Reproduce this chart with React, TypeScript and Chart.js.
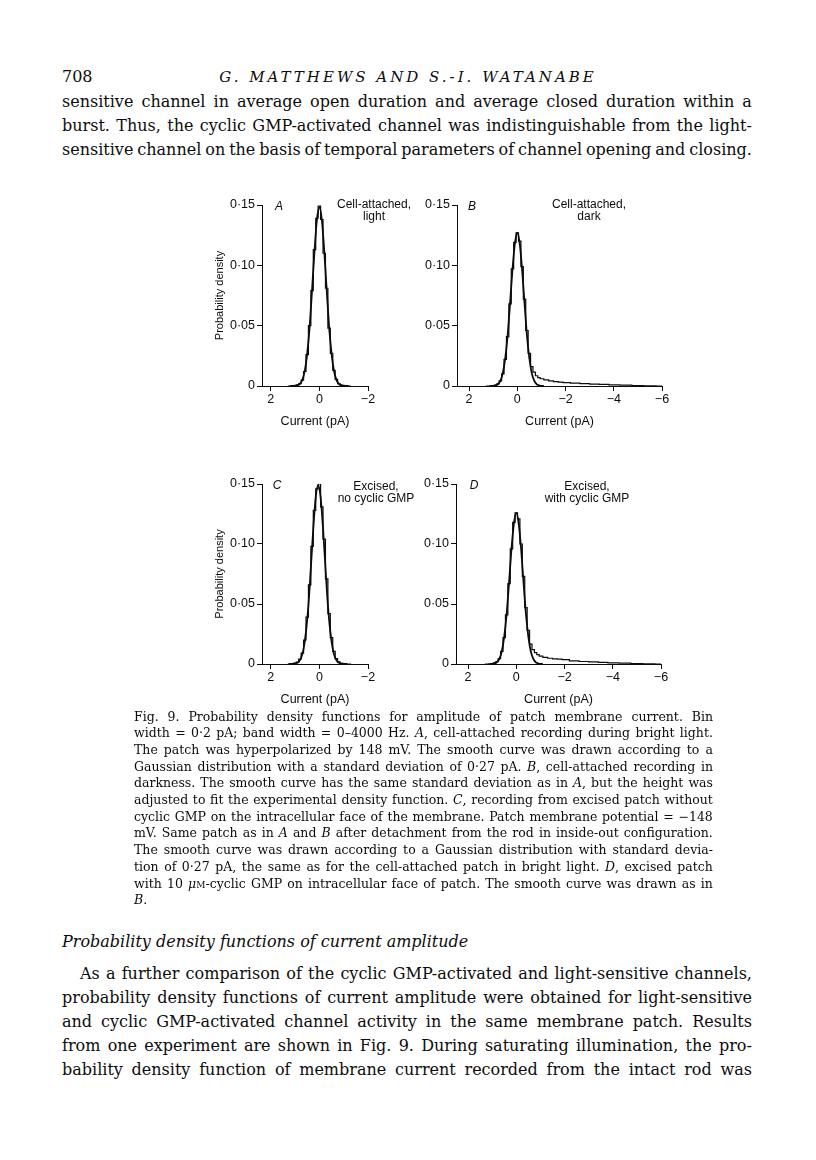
import React, { useEffect, useRef } from 'react';
import { Chart, registerables } from 'chart.js';

Chart.register(...registerables);

// ---------------- DATA ----------------
const yTickValues = [0, 0.05, 0.1, 0.15];
const yTickLabels = ['0', '0·05', '0·10', '0·15'];
const xTicksNarrow = [2, 0, -2];
const xTicksWide = [2, 0, -2, -4, -6];
const xTickLabelsNarrow = ['2', '0', '−2'];
const xTickLabelsWide = ['2', '0', '−2', '−4', '−6'];

// bin centres (pA) used by panels A and C
const binsNarrow = [1.3, 1.2, 1.1, 1.0, 0.9, 0.8, 0.7, 0.6, 0.5, 0.4, 0.3, 0.2, 0.1, 0, -0.1, -0.2, -0.3, -0.4, -0.5, -0.6, -0.7, -0.8, -0.9, -1.0, -1.1, -1.2, -1.3];
// bin centres (pA) used by panels B and D (with long tail)
const binsWide = [1.3, 1.2, 1.1, 1.0, 0.9, 0.8, 0.7, 0.6, 0.5, 0.4, 0.3, 0.2, 0.1, 0, -0.1, -0.2, -0.3, -0.4, -0.5, -0.6, -0.7, -0.8, -0.9, -1.0, -1.2, -1.4, -1.6, -1.8, -2.0, -2.4, -2.8, -3.2, -3.6, -4.0, -4.5, -5.0, -5.5, -6.0];

// A: cell-attached, light
const histA = [0, 0, 0.0002, 0.0004, 0.0009, 0.002, 0.0048, 0.012, 0.026, 0.05, 0.079, 0.113, 0.139, 0.149, 0.138, 0.11, 0.081, 0.048, 0.027, 0.013, 0.0055, 0.002, 0.0008, 0.0003, 0.0001, 0, 0];
const fitXA = [1.2, 1.1, 1.0, 0.9, 0.8, 0.7, 0.6, 0.5, 0.4, 0.3, 0.2, 0.1, 0, -0.1, -0.2, -0.3, -0.4, -0.5, -0.6, -0.7, -0.8, -0.9, -1.0, -1.1, -1.2];
const fitYA = [0, 0.00005, 0.0002, 0.0006, 0.0018, 0.0051, 0.0125, 0.027, 0.049, 0.08, 0.112, 0.138, 0.148, 0.138, 0.112, 0.08, 0.049, 0.027, 0.0125, 0.0051, 0.0018, 0.0006, 0.0002, 0.00005, 0];

// B: cell-attached, dark
const histB = [0, 0, 0.0001, 0.0003, 0.0008, 0.0018, 0.0042, 0.01, 0.022, 0.041, 0.068, 0.097, 0.119, 0.127, 0.12, 0.099, 0.072, 0.046, 0.027, 0.016, 0.0115, 0.0085, 0.007, 0.006, 0.005, 0.0043, 0.0037, 0.0032, 0.0028, 0.0024, 0.002, 0.0016, 0.0013, 0.001, 0.0007, 0.0004, 0.0002, 0];
const fitXB = [1.1, 1.0, 0.9, 0.8, 0.7, 0.6, 0.5, 0.4, 0.3, 0.2, 0.1, 0, -0.1, -0.2, -0.3, -0.4, -0.5, -0.6, -0.7, -0.8, -0.9, -1.0, -1.1];
const fitYB = [0, 0.00013, 0.0005, 0.0016, 0.0044, 0.0107, 0.023, 0.042, 0.0685, 0.0965, 0.118, 0.127, 0.118, 0.0965, 0.0685, 0.042, 0.023, 0.0107, 0.0044, 0.0016, 0.0005, 0.00013, 0];

// C: excised, no cyclic GMP
const histC = [0, 0.0001, 0.0003, 0.0007, 0.0016, 0.004, 0.009, 0.02, 0.039, 0.066, 0.098, 0.128, 0.146, 0.15, 0.131, 0.104, 0.071, 0.042, 0.022, 0.0105, 0.0045, 0.0017, 0.0006, 0.0002, 0, 0, 0];
const fitXC = [1.25, 1.15, 1.05, 0.95, 0.85, 0.75, 0.65, 0.55, 0.45, 0.35, 0.25, 0.15, 0.05, -0.05, -0.15, -0.25, -0.35, -0.45, -0.55, -0.65, -0.75, -0.85, -0.95, -1.05, -1.15];
const fitYC = [0, 0.00005, 0.0002, 0.0006, 0.0018, 0.0052, 0.0126, 0.027, 0.049, 0.0805, 0.113, 0.139, 0.149, 0.139, 0.113, 0.0805, 0.049, 0.027, 0.0126, 0.0052, 0.0018, 0.0006, 0.0002, 0.00005, 0];

// D: excised, with cyclic GMP
const histD = [0, 0, 0.0001, 0.0003, 0.0009, 0.002, 0.0045, 0.0105, 0.022, 0.041, 0.067, 0.096, 0.118, 0.126, 0.121, 0.1, 0.073, 0.047, 0.028, 0.0165, 0.012, 0.0095, 0.0078, 0.0066, 0.0055, 0.0048, 0.0043, 0.004, 0.0036, 0.0026, 0.0021, 0.0017, 0.0013, 0.001, 0.0007, 0.0004, 0.0002, 0];
const fitXD = [1.1, 1.0, 0.9, 0.8, 0.7, 0.6, 0.5, 0.4, 0.3, 0.2, 0.1, 0, -0.1, -0.2, -0.3, -0.4, -0.5, -0.6, -0.7, -0.8, -0.9, -1.0, -1.1];
const fitYD = [0, 0.00013, 0.0005, 0.0016, 0.0044, 0.0106, 0.0228, 0.0417, 0.068, 0.0958, 0.117, 0.126, 0.117, 0.0958, 0.068, 0.0417, 0.0228, 0.0106, 0.0044, 0.0016, 0.0005, 0.00013, 0];

// ---------------- TEXT ----------------
const topLines = [
  'sensitive channel in average open duration and average closed duration within a',
  'burst. Thus, the cyclic GMP-activated channel was indistinguishable from the light-',
  'sensitive channel on the basis of temporal parameters of channel opening and closing.',
];
const captionLines = [
  'Fig. 9. Probability density functions for amplitude of patch membrane current. Bin',
  'width = 0·2 pA; band width = 0–4000 Hz. *A*, cell-attached recording during bright light.',
  'The patch was hyperpolarized by 148 mV. The smooth curve was drawn according to a',
  'Gaussian distribution with a standard deviation of 0·27 pA. *B*, cell-attached recording in',
  'darkness. The smooth curve has the same standard deviation as in *A*, but the height was',
  'adjusted to fit the experimental density function. *C*, recording from excised patch without',
  'cyclic GMP on the intracellular face of the membrane. Patch membrane potential = −148',
  'mV. Same patch as in *A* and *B* after detachment from the rod in inside-out configuration.',
  'The smooth curve was drawn according to a Gaussian distribution with standard devia-',
  'tion of 0·27 pA, the same as for the cell-attached patch in bright light. *D*, excised patch',
  'with 10 *μ*^M^-cyclic GMP on intracellular face of patch. The smooth curve was drawn as in',
];
const captionLast = '*B*.';
const sectionHeading = 'Probability density functions of current amplitude';
const paraLines = [
  'As a further comparison of the cyclic GMP-activated and light-sensitive channels,',
  'probability density functions of current amplitude were obtained for light-sensitive',
  'and cyclic GMP-activated channel activity in the same membrane patch. Results',
  'from one experiment are shown in Fig. 9. During saturating illumination, the pro-',
  'bability density function of membrane current recorded from the intact rod was',
];

// ---------------- LAYOUT ----------------
const INK = '#0c0c0c';
const SANS = '"Liberation Sans", Arial, sans-serif';
const SERIF = '"DejaVu Serif", serif';
const Y_W = 72;
const PAD_T = 15;
const PAD_R = 37;
const X_H = 54;
const BODY = 16;
const CAP = 12.5;

type PanelDef = {
  key: string;
  left: number; right: number; top: number; bottom: number;
  xMax: number; xMin: number;
  xTicks: number[]; xLabels: string[];
  histX: number[]; histY: number[];
  fitX: number[]; fitY: number[];
  showYTitle: boolean;
  letter: string; letterX: number;
  note: string[]; noteX: number;
};

const panels: PanelDef[] = [
  { key: 'A', left: 262, right: 368, top: 205, bottom: 386, xMax: 2.36, xMin: -2, xTicks: xTicksNarrow, xLabels: xTickLabelsNarrow, histX: binsNarrow, histY: histA, fitX: fitXA, fitY: fitYA, showYTitle: true, letter: 'A', letterX: 279, note: ['Cell-attached,', 'light'], noteX: 374 },
  { key: 'B', left: 457, right: 662, top: 205, bottom: 386, xMax: 2.5, xMin: -6, xTicks: xTicksWide, xLabels: xTickLabelsWide, histX: binsWide, histY: histB, fitX: fitXB, fitY: fitYB, showYTitle: false, letter: 'B', letterX: 472, note: ['Cell-attached,', 'dark'], noteX: 589 },
  { key: 'C', left: 262, right: 368, top: 484, bottom: 664, xMax: 2.36, xMin: -2, xTicks: xTicksNarrow, xLabels: xTickLabelsNarrow, histX: binsNarrow, histY: histC, fitX: fitXC, fitY: fitYC, showYTitle: true, letter: 'C', letterX: 277, note: ['Excised,', 'no cyclic GMP'], noteX: 376 },
  { key: 'D', left: 456, right: 661, top: 484, bottom: 664, xMax: 2.5, xMin: -6, xTicks: xTicksWide, xLabels: xTickLabelsWide, histX: binsWide, histY: histD, fitX: fitXD, fitY: fitYD, showYTitle: false, letter: 'D', letterX: 474, note: ['Excised,', 'with cyclic GMP'], noteX: 587 },
];

function Panel({ p }: { p: PanelDef }) {
  const ref = useRef<HTMLCanvasElement>(null);
  const cw = p.right - p.left + Y_W + PAD_R;
  const ch = p.bottom - p.top + PAD_T + X_H;
  useEffect(() => {
    if (!ref.current) return;
    const tickFont = { family: SANS, size: 12.5 };
    const gridOpts = { display: true, drawOnChartArea: false, drawTicks: true, tickLength: 5, color: INK, lineWidth: 1 };
    const chart = new Chart(ref.current, {
      type: 'line',
      data: {
        datasets: [
          {
            data: p.histX.map((x, i) => ({ x, y: p.histY[i] })),
            borderColor: INK, borderWidth: 1.2, pointRadius: 0, stepped: 'middle', fill: false,
          },
          {
            data: p.fitX.map((x, i) => ({ x, y: p.fitY[i] })),
            borderColor: INK, borderWidth: 1.8, pointRadius: 0, cubicInterpolationMode: 'monotone', fill: false,
          },
        ],
      },
      options: {
        responsive: false,
        animation: false,
        events: [],
        layout: { padding: { left: 0, top: PAD_T, right: PAD_R, bottom: 0 } },
        plugins: { legend: { display: false }, tooltip: { enabled: false } },
        scales: {
          x: {
            type: 'linear', reverse: true, min: p.xMin, max: p.xMax,
            afterBuildTicks: (s: any) => { s.ticks = p.xTicks.map((v) => ({ value: v })); },
            afterFit: (s: any) => { s.height = X_H; },
            ticks: {
              autoSkip: false, maxRotation: 0, padding: 1, color: INK, font: tickFont,
              callback: (v: any) => p.xLabels[p.xTicks.indexOf(Number(v))],
            },
            grid: gridOpts,
            border: { display: true, color: INK, width: 1 },
            title: { display: true, text: 'Current (pA)', color: INK, font: { family: SANS, size: 12.5 }, padding: { top: 0, bottom: X_H - 43.5 } },
          },
          y: {
            type: 'linear', min: 0, max: 0.15,
            afterBuildTicks: (s: any) => { s.ticks = yTickValues.map((v) => ({ value: v })); },
            afterFit: (s: any) => { s.width = Y_W; },
            ticks: {
              padding: 2, color: INK, font: tickFont,
              callback: (v: any) => yTickLabels[yTickValues.indexOf(Number(v))],
            },
            grid: gridOpts,
            border: { display: true, color: INK, width: 1 },
            title: { display: p.showYTitle, text: 'Probability density', color: INK, font: { family: SANS, size: 11 }, padding: { top: 23.4, bottom: 0 } },
          },
        },
      },
    } as any);
    return () => chart.destroy();
  }, []);
  return (
    <canvas
      ref={ref}
      width={cw}
      height={ch}
      style={{ position: 'absolute', left: p.left - Y_W, top: p.top - PAD_T, width: cw, height: ch }}
    />
  );
}

function rich(s: string) {
  const parts = s.split(/(\*[^*]+\*|\^[^^]+\^)/).filter((x) => x.length > 0);
  return parts.map((t, i) => {
    if (t.startsWith('*')) return <i key={i}>{t.slice(1, -1)}</i>;
    if (t.startsWith('^')) return <span key={i} style={{ fontSize: '0.72em' }}>{t.slice(1, -1)}</span>;
    return <React.Fragment key={i}>{t}</React.Fragment>;
  });
}

function JLine({ x, y, w, size, text, indent = 0 }: { x: number; y: number; w: number; size: number; text: string; indent?: number }) {
  const words = text.split(' ');
  return (
    <div
      style={{
        position: 'absolute', left: x + indent, top: y - size * 0.68, width: w - indent,
        display: 'flex', justifyContent: 'space-between', whiteSpace: 'nowrap', columnGap: 2,
        fontSize: size, lineHeight: `${size * 1.2}px`,
      }}
    >
      {words.map((wd, i) => <span key={i}>{rich(wd)}</span>)}
    </div>
  );
}

function Note({ cx, cy, text, italic = false }: { cx: number; cy: number; text: string; italic?: boolean }) {
  return (
    <div
      style={{
        position: 'absolute', left: cx - 100, width: 200, top: cy - 7, textAlign: 'center',
        fontFamily: SANS, fontSize: 12, lineHeight: '14px', fontStyle: italic ? 'italic' : 'normal', color: INK, whiteSpace: 'nowrap',
      }}
    >
      {text}
    </div>
  );
}

export default function App() {
  return (
    <div style={{ position: 'absolute', left: 0, top: 0, width: 816, height: 1160, background: '#fff', color: INK, fontFamily: SERIF, overflow: 'hidden' }}>
      <div style={{ position: 'absolute', left: 62, top: 78 - 11, fontSize: BODY, lineHeight: '19px' }}>708</div>
      <div style={{ position: 'absolute', left: 108, width: 600, top: 78 - 10, textAlign: 'center', fontSize: 15, lineHeight: '18px', fontStyle: 'italic', letterSpacing: 3 }}>
        G. MATTHEWS AND S.-I. WATANABE
      </div>
      {topLines.map((t, i) => <JLine key={'t' + i} x={62} y={103 + i * 24} w={690} size={BODY} text={t} />)}

      {panels.map((p) => <Panel key={p.key} p={p} />)}
      {panels.map((p) => (
        <React.Fragment key={'n' + p.key}>
          <Note cx={p.letterX} cy={p.top + 1} text={p.letter} italic />
          <Note cx={p.noteX} cy={p.top + (p.key === 'A' || p.key === 'B' ? -1 : 2)} text={p.note[0]} />
          <Note cx={p.noteX} cy={p.top + (p.key === 'A' || p.key === 'B' ? 11 : 14)} text={p.note[1]} />
        </React.Fragment>
      ))}

      {captionLines.map((t, i) => <JLine key={'c' + i} x={134} y={717 + i * 16.7} w={579} size={CAP} text={t} />)}
      <div style={{ position: 'absolute', left: 134, top: 717 + 11 * 16.7 - CAP * 0.68, fontSize: CAP, lineHeight: `${CAP * 1.2}px` }}>{rich(captionLast)}</div>

      <div style={{ position: 'absolute', left: 62, top: 943 - 11, fontSize: BODY, lineHeight: '19px', fontStyle: 'italic' }}>{sectionHeading}</div>
      {paraLines.map((t, i) => <JLine key={'p' + i} x={62} y={975 + i * 24} w={690} size={BODY} text={t} indent={i === 0 ? 18 : 0} />)}
    </div>
  );
}
